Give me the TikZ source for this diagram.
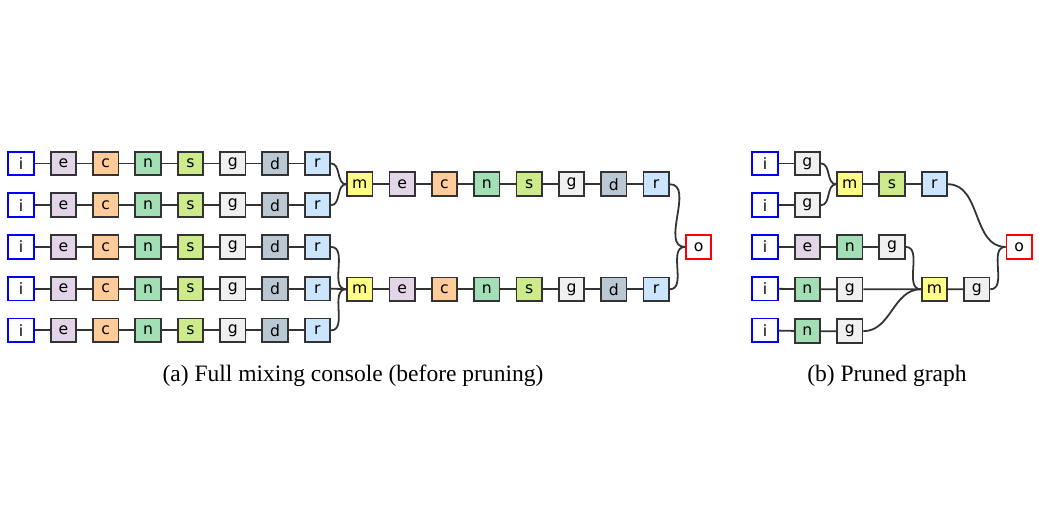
\documentclass[tikz,border=0pt]{standalone}
\usepackage{fontspec}
\setmainfont{Liberation Serif}
\newfontfamily\boxfont{DejaVu Sans}
\usetikzlibrary{arrows.meta}
\definecolor{paleplum}{HTML}{E1D5E7}
\definecolor{apricot}{HTML}{FFCC99}
\definecolor{seafoam}{HTML}{A3DFB5}
\definecolor{pistachio}{HTML}{CDEB8B}
\definecolor{silverwhite}{HTML}{F0F0F0}
\definecolor{slategrey}{HTML}{BAC8D3}
\definecolor{babyblue}{HTML}{CCE5FF}
\definecolor{butter}{HTML}{FFFF88}

\begin{document}
\begin{tikzpicture}[
  blk/.style={draw=black!80, line width=1.2pt, minimum width=0.6cm, minimum height=0.56cm,
    inner sep=0pt, font=\boxfont\fontsize{10.5}{12}\selectfont},
  inbox/.style={blk, draw=blue, fill=white},
  outbox/.style={blk, draw=red, fill=white},
  wire/.style={draw=black!80, line width=1.2pt},
  caption/.style={font=\fontsize{15.8}{18}\selectfont}
]
  \useasboundingbox (-0.496,3.861) rectangle (24.04,-8.607);

  % (a) full console: five input strips
  \foreach \row in {0,...,4}
  {
    \node[inbox] (a-i-\row) at (0,-0.985*\row) {i};
    \foreach \col/\name/\clr [remember=\name as \prev (initially i)] in
      {1/e/paleplum, 2/c/apricot, 3/n/seafoam, 4/s/pistachio, 5/g/silverwhite, 6/d/slategrey, 7/r/babyblue}
    {
      \node[blk, fill=\clr] (a-\name-\row) at (\col,-0.985*\row) {\name};
      \draw[wire] (a-\prev-\row) -- (a-\name-\row);
    }
  }

  % (a) two bus strips
  \foreach \bus/\y in {u/-0.49, l/-2.97}
  {
    \node[blk, fill=butter] (a-m-\bus) at (8,\y) {m};
    \foreach \col/\name/\clr [remember=\name as \prev (initially m)] in
      {9/e/paleplum, 10/c/apricot, 11/n/seafoam, 12/s/pistachio, 13/g/silverwhite, 14/d/slategrey, 15/r/babyblue}
    {
      \node[blk, fill=\clr] (a-\name-\bus) at (\col,\y) {\name};
      \draw[wire] (a-\prev-\bus) -- (a-\name-\bus);
    }
  }
  \node[outbox] (a-o) at (16,-1.97) {o};

  \foreach \row/\bus in {0/u, 1/u, 2/l, 3/l, 4/l}
    \draw[wire] (a-r-\row) to[out=0,in=180] (a-m-\bus);
  \draw[wire] (a-r-u) to[out=0,in=180] (a-o);
  \draw[wire] (a-r-l) to[out=0,in=180] (a-o);

  \node[caption] (capa) at (7.84,-5.02) {(a) Full mixing console (before pruning)};

  % (b) pruned graph
  \begin{scope}[xshift=17.57cm]
    \foreach \row in {0,...,4}
      \node[inbox] (b-i-\row) at (0,-0.985*\row) {i};
    \foreach \id/\lbl/\clr/\x/\y in
    {
      g0/g/silverwhite/1/0, g1/g/silverwhite/1/-0.985,
      m1/m/butter/2/-0.49, s1/s/pistachio/3/-0.49, r1/r/babyblue/4/-0.49,
      e2/e/paleplum/1/-1.97, n2/n/seafoam/2/-1.97, g2/g/silverwhite/3/-1.97,
      n3/n/seafoam/1/-2.97, g3/g/silverwhite/2/-2.97, m2/m/butter/4/-2.97, g5/g/silverwhite/5/-2.97,
      n4/n/seafoam/1/-3.96, g4/g/silverwhite/2/-3.96
    }
      \node[blk, fill=\clr] (b-\id) at (\x,\y) {\lbl};
    \node[outbox] (b-o) at (6,-1.97) {o};
  \end{scope}

  \draw[wire] (b-i-0) -- (b-g0);
  \draw[wire] (b-i-1) -- (b-g1);
  \draw[wire] (b-i-2) -- (b-e2) -- (b-n2) -- (b-g2);
  \draw[wire] (b-i-3) -- (b-n3) -- (b-g3) -- (b-m2) -- (b-g5);
  \draw[wire] (b-i-4) -- (b-n4) -- (b-g4);
  \draw[wire] (b-m1) -- (b-s1) -- (b-r1);
  \foreach \src/\dst in {g0/m1, g1/m1, g2/m2, g4/m2, r1/o, g5/o}
    \draw[wire] (b-\src) to[out=0,in=180] (b-\dst);

  \node[caption] (capb) at (20.45,-5.02) {(b) Pruned graph};
\end{tikzpicture}
\end{document}
